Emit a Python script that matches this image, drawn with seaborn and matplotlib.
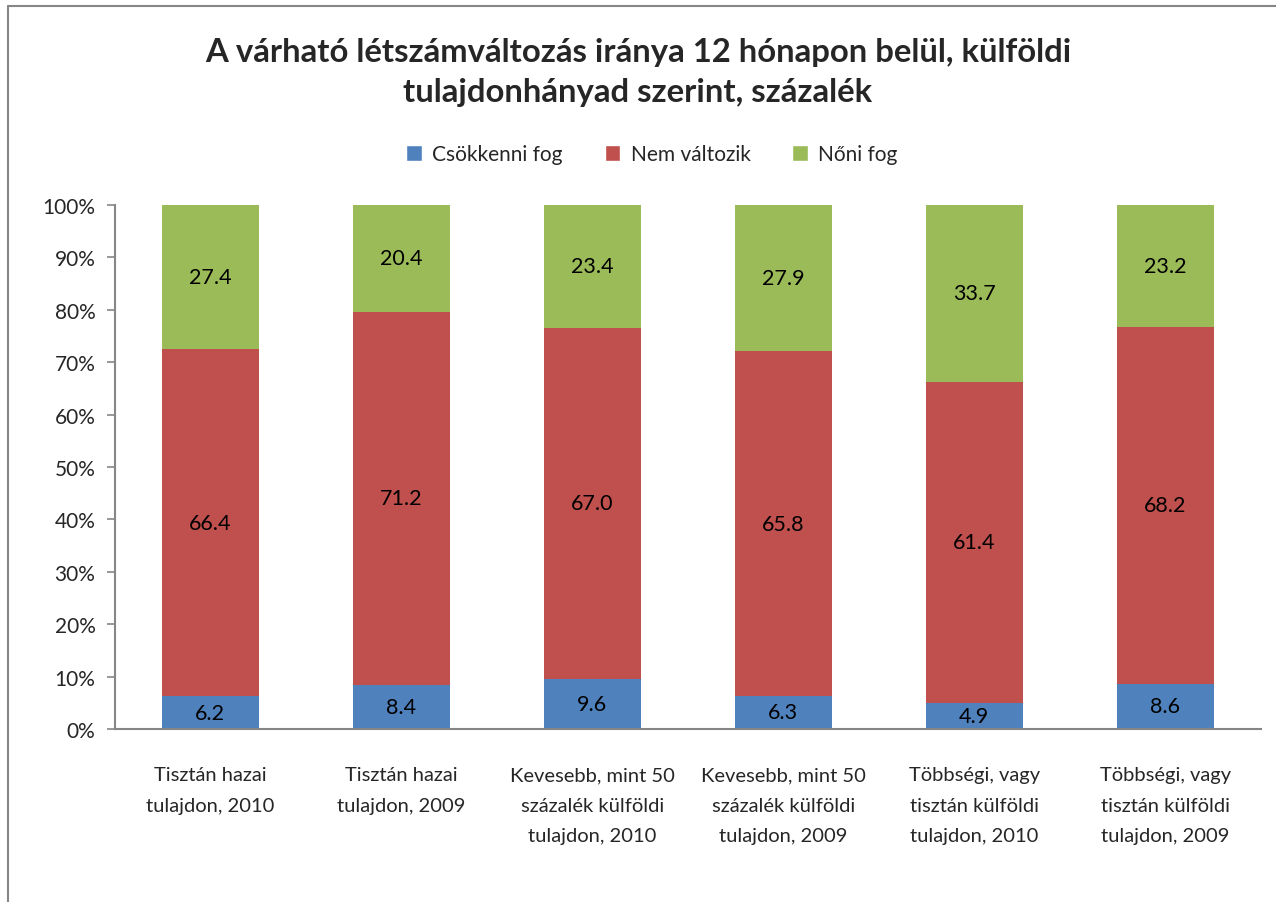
import numpy as np
import pandas as pd
import seaborn as sns
import matplotlib.pyplot as plt
from matplotlib.lines import Line2D
from matplotlib.patches import Patch

# %% data

categories = ["Tisztán hazai\ntulajdon, 2010",
              "Tisztán hazai\ntulajdon, 2009",
              "Kevesebb, mint 50\nszázalék külföldi\ntulajdon, 2010",
              "Kevesebb, mint 50\nszázalék külföldi\ntulajdon, 2009",
              "Többségi, vagy\ntisztán külföldi\ntulajdon, 2010",
              "Többségi, vagy\ntisztán külföldi\ntulajdon, 2009"]

csokken = [6.2, 8.4, 9.6, 6.3, 4.9, 8.6]
nem_valtozik = [66.4, 71.2, 67.0, 65.8, 61.4, 68.2]
noni = [27.4, 20.4, 23.4, 27.9, 33.7, 23.2]

series_names = ["Csökkenni fog", "Nem változik", "Nőni fog"]
colors = ["#4F81BD", "#C0504D", "#9BBB59"]

df = pd.DataFrame({"kat": categories, series_names[0]: csokken,
                   series_names[1]: nem_valtozik, series_names[2]: noni})

# %% plot

sns.set_style("white")
plt.rcParams['font.family'] = ['Lato', 'DejaVu Sans']

fig = plt.figure(figsize=(12.76, 9.03), dpi=100)
ax = fig.add_axes([0.090, 0.1916, 0.898, 0.5803])

bottom = np.zeros(len(categories))
for name, col in zip(series_names, colors):
    sns.barplot(data=df, x="kat", y=name, color=col, bottom=bottom,
                width=0.51, saturation=1, ax=ax, linewidth=0)
    vals = df[name].to_numpy()
    for i, v in enumerate(vals):
        ax.text(i, bottom[i] + v / 2, f"{v:.1f}", ha="center", va="center",
                fontsize=15.5, color="black")
    bottom = bottom + vals

ax.set_ylim(0, 100)
ax.set_xlim(-0.5, len(categories) - 0.5)
ax.set_yticks(np.arange(0, 101, 10))
ax.set_yticklabels([f"{t}%" for t in range(0, 101, 10)], fontsize=15)
ax.set_xticks(range(len(categories)))
ax.set_xticklabels(categories, fontsize=14.5, linespacing=1.93, va="top")
ax.set_xlabel("")
ax.set_ylabel("")

sns.despine(ax=ax, top=True, right=True)
for s in ["left", "bottom"]:
    ax.spines[s].set_color("#868686")
    ax.spines[s].set_linewidth(1.5)
ax.tick_params(axis="y", direction="out", length=6, width=1.2, color="#868686", pad=8, left=True)
ax.tick_params(axis="x", length=0, pad=27)

fig.text(0.5, 0.920, "A várható létszámváltozás iránya 12 hónapon belül, külföldi\n"
         "tulajdonhányad szerint, százalék", ha="center", va="center",
         fontsize=23.7, fontweight="bold", linespacing=1.45)

handles = [Patch(facecolor=c, label=n) for n, c in zip(series_names, colors)]
fig.legend(handles=handles, loc="center", bbox_to_anchor=(0.511, 0.828), ncol=3,
           frameon=False, fontsize=15, handlelength=0.75, handleheight=0.75,
           columnspacing=2.0, handletextpad=0.5)

# chart border
fig.add_artist(Line2D([8 / 1276, 8 / 1276], [0, 1 - 7 / 903], color="#868686", lw=1.5))
fig.add_artist(Line2D([8 / 1276, 1], [1 - 7 / 903, 1 - 7 / 903], color="#868686", lw=1.5))

plt.savefig("out.png", dpi=100)
